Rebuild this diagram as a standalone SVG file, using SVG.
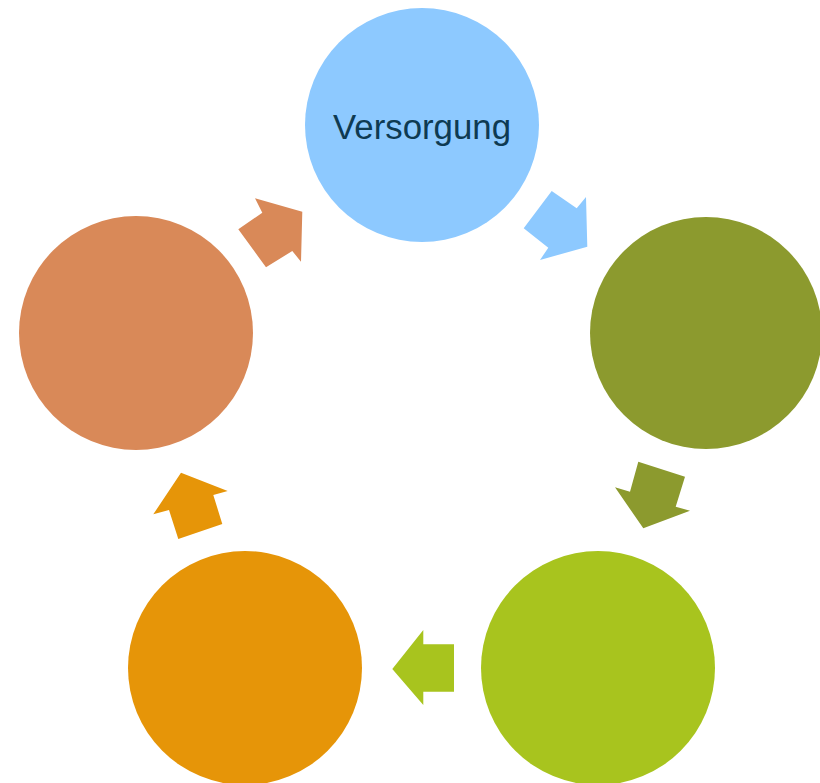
<svg xmlns="http://www.w3.org/2000/svg" width="820" height="783" viewBox="0 0 820 783">
<style>
.lbl{font-family:"Liberation Sans","Open Sans",sans-serif;font-size:35px;fill:#0E3A52;text-anchor:middle}
</style>
<rect width="820" height="783" fill="#FFFFFF"/>
<g id="connectors">
<polygon fill="#8DC9FF" points="551.7,191 576.7,208.3 586,197 587.3,246.7 540,260 548.3,247.7 523.7,228.3"/>
<polygon fill="#8C9A2E" points="638.3,461.7 685,476.7 675.7,506.7 690,510.7 643.3,528.3 615,487.3 630,491.7"/>
<polygon fill="#A8C41E" points="454,644.3 454,691.7 423.3,691.7 423.3,705 392.3,669 423.3,630 423.3,644.3"/>
<polygon fill="#E69508" points="181,472.7 227.7,491 213.3,495 222.3,524 178.3,539 169,510 153.3,514.3"/>
<polygon fill="#D98958" points="255,198.3 302.3,211.7 301,261.7 292.3,251 266,267.3 238.3,229.3 262.3,212.7"/>
</g>
<g id="node-versorgung">
<circle cx="422" cy="125" r="117" fill="#8DC9FF"/>
<text class="lbl" x="422" y="139" textLength="178" lengthAdjust="spacingAndGlyphs">Versorgung</text>
</g>
<g id="node-right"><circle cx="706" cy="333" r="116" fill="#8C9A2E"/></g>
<g id="node-bottom-right"><circle cx="598" cy="668" r="117" fill="#A8C41E"/></g>
<g id="node-bottom-left"><circle cx="245" cy="668" r="117" fill="#E69508"/></g>
<g id="node-left"><circle cx="136" cy="333" r="117" fill="#D98958"/></g>
</svg>
